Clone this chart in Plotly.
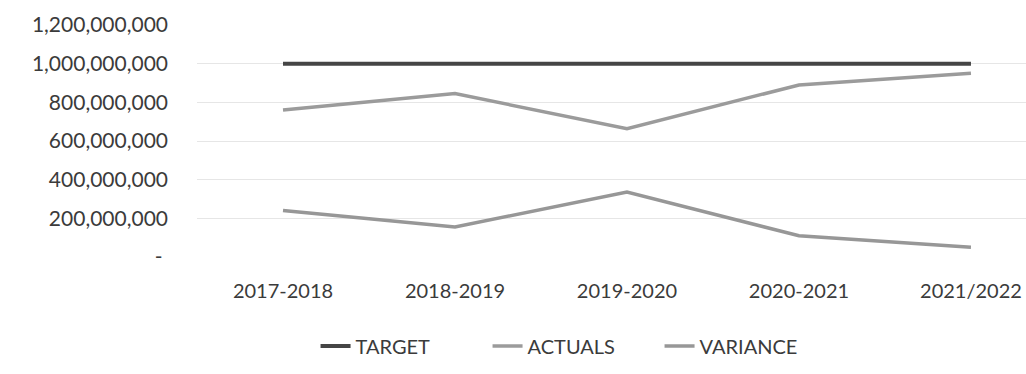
import plotly.graph_objects as go

# Financial years on the category axis
years = ["2017-2018", "2018-2019", "2019-2020", "2020-2021", "2021/2022"]

# Series values
target = [1_000_000_000, 1_000_000_000, 1_000_000_000, 1_000_000_000, 1_000_000_000]
actuals = [760_000_000, 845_000_000, 664_000_000, 890_000_000, 950_000_000]
variance = [240_000_000, 155_000_000, 336_000_000, 110_000_000, 50_000_000]

# Value-axis ticks (accounting style, zero shown as a dash)
y_tickvals = [0, 200_000_000, 400_000_000, 600_000_000, 800_000_000, 1_000_000_000, 1_200_000_000]
y_ticktext = ["-\u00a0", "200,000,000", "400,000,000", "600,000,000",
              "800,000,000", "1,000,000,000", "1,200,000,000"]

FONT = "Lato"
TEXT = "#3b3b3b"

fig = go.Figure()
fig.add_trace(go.Scatter(x=years, y=target, name="TARGET", mode="lines",
                         line=dict(color="#454545", width=4)))
fig.add_trace(go.Scatter(x=years, y=actuals, name="ACTUALS", mode="lines",
                         line=dict(color="#9b9b9b", width=3.5)))
fig.add_trace(go.Scatter(x=years, y=variance, name="VARIANCE", mode="lines",
                         line=dict(color="#979797", width=3.5)))

fig.update_layout(
    width=1026, height=374,
    margin=dict(l=197, r=0, t=25, b=117),
    paper_bgcolor="white", plot_bgcolor="white",
    font=dict(family=FONT, size=20, color=TEXT),
    showlegend=True,
    legend=dict(orientation="h", x=0.143, xanchor="left", y=-0.30, yanchor="top",
                font=dict(family=FONT, size=20, color=TEXT),
                itemwidth=30, entrywidth=127, entrywidthmode="pixels",
                traceorder="normal"),
)
fig.update_xaxes(
    type="category", range=[-0.5, 4.32],
    showgrid=False, showline=False, zeroline=False, ticks="",
    tickfont=dict(family=FONT, size=20, color=TEXT),
    ticklabelstandoff=20,
)
fig.update_yaxes(
    range=[0, 1_200_000_000],
    tickvals=y_tickvals, ticktext=y_ticktext,
    showgrid=True, gridcolor="#e6e6e6", gridwidth=1,
    zeroline=False, showline=False, ticks="",
    tickfont=dict(family=FONT, size=21, color=TEXT),
    ticklabelstandoff=28,
)

fig.write_html("out.html")
